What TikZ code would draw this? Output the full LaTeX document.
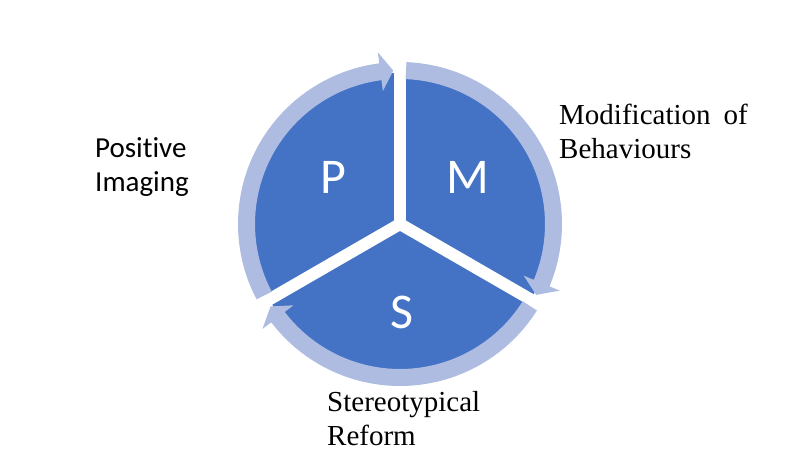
\documentclass[tikz,border=0pt]{standalone}
\usepackage{fontspec}
\setmainfont[Ligatures=NoCommon]{Liberation Serif}
\newfontfamily\calibri[Ligatures=NoCommon]{Carlito}
\usetikzlibrary{calc}
\definecolor{darkblue}{HTML}{4472C4}
\definecolor{lightblue}{RGB}{174,188,226}
\begin{document}
\begin{tikzpicture}[x=1pt,y=1pt,
  ringline/.style={draw=lightblue, line width=17pt},
  headfill/.style={fill=lightblue},
  gapline/.style={draw=white, line width=12pt},
  letter/.style={text=white, font=\calibri\fontsize{50}{60}\selectfont, inner sep=0pt},
  sanslabel/.style={font=\calibri\fontsize{29}{34}\selectfont, align=left, inner sep=0pt, anchor=base west},
  seriflabel/.style={font=\fontsize{29}{34}\selectfont, align=left, inner sep=0pt, anchor=base west}]
\useasboundingbox (0,0) rectangle (800,450);
\coordinate (c) at (400,226);
% pie
\fill[darkblue] (c) circle[radius=151];
% gaps between segments
\foreach \a in {90,210,330} \draw[gapline] (c) -- ++(\a:176);
% ring arrows (clockwise)
\foreach \s/\t in {207.75/92.5, 87.75/-27.5, -32.25/-147.5} {
  \pgfmathsetmacro\b{\t+4.85}
  \pgfmathsetmacro\e{\b-0.6}
  \draw[ringline] ($(c)+(\s:153.5)$) arc[start angle=\s, end angle=\e, radius=153.5];
  \fill[headfill] ($(c)+(\t:153.5)$) -- ($(c)+(\b:134)$) -- ($(c)+(\b:173)$) -- cycle;
}
% segment letters
\node[letter] (P) at (333,273) {P};
\node[letter] (M) at (468,273) {M};
\node[letter] (S) at (402,138) {S};
% labels (anchor at baseline of last line)
\node[sanslabel] (pos) at (95,258.5) {Positive\\Imaging};
\node[seriflabel] (mod) at (559,291) {Modification\hspace{0.2em} of\\Behaviours};
\node[seriflabel] (ste) at (327,4.5) {Stereotypical\\Reform};
\end{tikzpicture}
\end{document}
